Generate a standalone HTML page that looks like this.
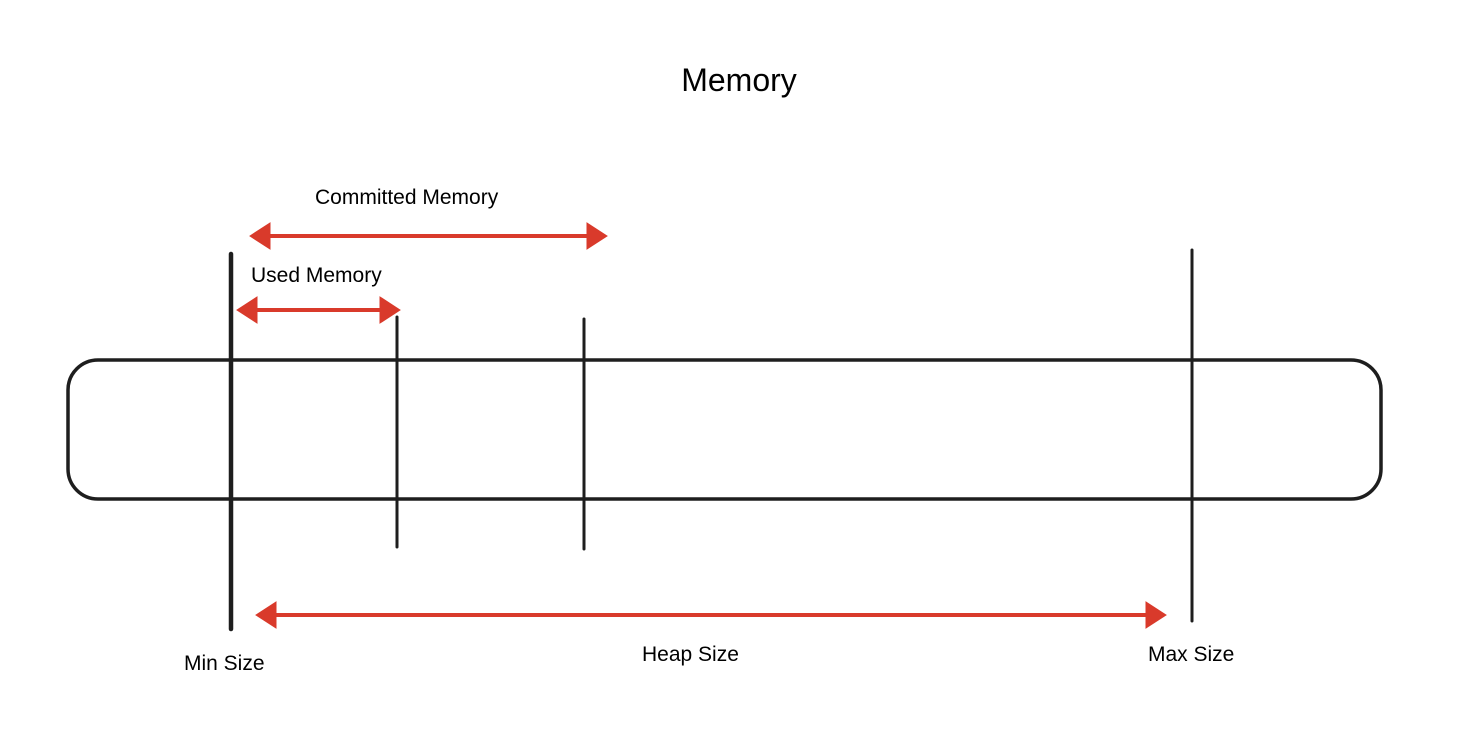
<!DOCTYPE html>
<html><head><meta charset="utf-8"><style>
html,body{margin:0;padding:0;background:#fff;}
svg{display:block}
text{font-family:"Liberation Sans",Arial,sans-serif;fill:#000}
</style></head><body>
<svg width="1470" height="756" viewBox="0 0 1470 756" xmlns="http://www.w3.org/2000/svg">
<text x="739" y="91" font-size="32" text-anchor="middle">Memory</text>
<text x="315" y="204" font-size="21">Committed Memory</text>
<text x="251" y="282" font-size="21">Used Memory</text>
<text x="184" y="670" font-size="21">Min Size</text>
<text x="642" y="661" font-size="21">Heap Size</text>
<text x="1148" y="661" font-size="21">Max Size</text>
<rect x="68" y="360" width="1313" height="139" rx="30" ry="30" fill="none" stroke="#1e1e1e" stroke-width="3.5"/>
<g stroke="#1e1e1e" stroke-linecap="round">
<line x1="231" y1="254" x2="231" y2="629" stroke-width="4.5"/>
<line x1="397" y1="317" x2="397" y2="547" stroke-width="3"/>
<line x1="584" y1="319" x2="584" y2="549" stroke-width="3"/>
<line x1="1192" y1="250" x2="1192" y2="621" stroke-width="3"/>
</g>
<g fill="#d93a2b" stroke="#d93a2b">
<line x1="265" y1="236" x2="590" y2="236" stroke-width="4"/>
<polygon points="250,236 270,223 270,249"/>
<polygon points="607,236 587,223 587,249"/>
<line x1="250" y1="310" x2="385" y2="310" stroke-width="4"/>
<polygon points="237,310 257,297 257,323"/>
<polygon points="400,310 380,297 380,323"/>
<line x1="270" y1="615" x2="1150" y2="615" stroke-width="4"/>
<polygon points="256,615 276,602 276,628"/>
<polygon points="1166,615 1146,602 1146,628"/>
</g>
</svg>
</body></html>
